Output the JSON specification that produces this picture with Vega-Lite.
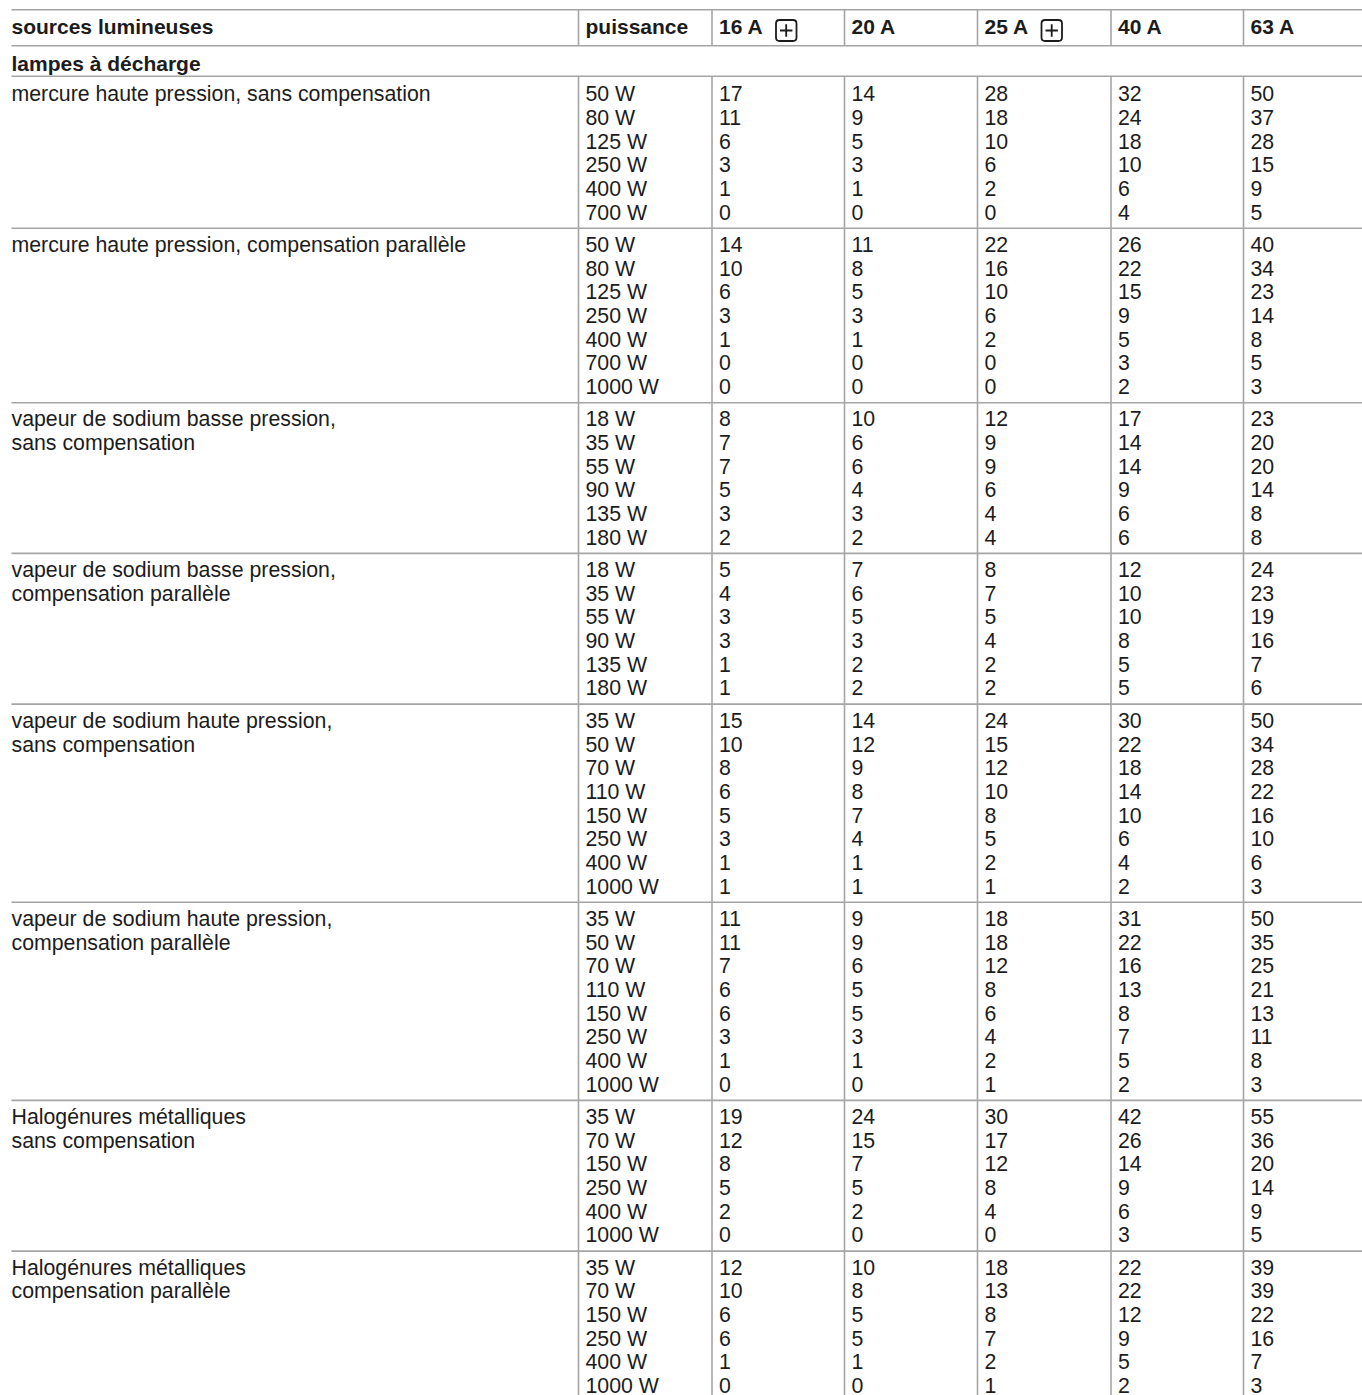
{
  "$schema": "https://vega.github.io/schema/vega-lite/v6.json",
  "width": 1362,
  "height": 1395,
  "autosize": {"type": "none"},
  "padding": 0,
  "background": "white",
  "config": {
    "view": {"stroke": null},
    "text": {"font": "Liberation Sans", "fontSize": 21, "color": "#1c1c1c", "align": "left", "baseline": "middle"}
  },
  "datasets": {
    "rows": [
      {"r": 0, "s": "mercure haute pression, sans compensation", "p": "50 W", "a16": 17, "a20": 14, "a25": 28, "a40": 32, "a63": 50},
      {"r": 1, "p": "80 W", "a16": 11, "a20": 9, "a25": 18, "a40": 24, "a63": 37},
      {"r": 2, "p": "125 W", "a16": 6, "a20": 5, "a25": 10, "a40": 18, "a63": 28},
      {"r": 3, "p": "250 W", "a16": 3, "a20": 3, "a25": 6, "a40": 10, "a63": 15},
      {"r": 4, "p": "400 W", "a16": 1, "a20": 1, "a25": 2, "a40": 6, "a63": 9},
      {"r": 5, "p": "700 W", "a16": 0, "a20": 0, "a25": 0, "a40": 4, "a63": 5},
      {"r": 6, "s": "mercure haute pression, compensation parallèle", "p": "50 W", "a16": 14, "a20": 11, "a25": 22, "a40": 26, "a63": 40},
      {"r": 7, "p": "80 W", "a16": 10, "a20": 8, "a25": 16, "a40": 22, "a63": 34},
      {"r": 8, "p": "125 W", "a16": 6, "a20": 5, "a25": 10, "a40": 15, "a63": 23},
      {"r": 9, "p": "250 W", "a16": 3, "a20": 3, "a25": 6, "a40": 9, "a63": 14},
      {"r": 10, "p": "400 W", "a16": 1, "a20": 1, "a25": 2, "a40": 5, "a63": 8},
      {"r": 11, "p": "700 W", "a16": 0, "a20": 0, "a25": 0, "a40": 3, "a63": 5},
      {"r": 12, "p": "1000 W", "a16": 0, "a20": 0, "a25": 0, "a40": 2, "a63": 3},
      {"r": 13, "s": "vapeur de sodium basse pression,", "p": "18 W", "a16": 8, "a20": 10, "a25": 12, "a40": 17, "a63": 23},
      {"r": 14, "s": "sans compensation", "p": "35 W", "a16": 7, "a20": 6, "a25": 9, "a40": 14, "a63": 20},
      {"r": 15, "p": "55 W", "a16": 7, "a20": 6, "a25": 9, "a40": 14, "a63": 20},
      {"r": 16, "p": "90 W", "a16": 5, "a20": 4, "a25": 6, "a40": 9, "a63": 14},
      {"r": 17, "p": "135 W", "a16": 3, "a20": 3, "a25": 4, "a40": 6, "a63": 8},
      {"r": 18, "p": "180 W", "a16": 2, "a20": 2, "a25": 4, "a40": 6, "a63": 8},
      {"r": 19, "s": "vapeur de sodium basse pression,", "p": "18 W", "a16": 5, "a20": 7, "a25": 8, "a40": 12, "a63": 24},
      {"r": 20, "s": "compensation parallèle", "p": "35 W", "a16": 4, "a20": 6, "a25": 7, "a40": 10, "a63": 23},
      {"r": 21, "p": "55 W", "a16": 3, "a20": 5, "a25": 5, "a40": 10, "a63": 19},
      {"r": 22, "p": "90 W", "a16": 3, "a20": 3, "a25": 4, "a40": 8, "a63": 16},
      {"r": 23, "p": "135 W", "a16": 1, "a20": 2, "a25": 2, "a40": 5, "a63": 7},
      {"r": 24, "p": "180 W", "a16": 1, "a20": 2, "a25": 2, "a40": 5, "a63": 6},
      {"r": 25, "s": "vapeur de sodium haute pression,", "p": "35 W", "a16": 15, "a20": 14, "a25": 24, "a40": 30, "a63": 50},
      {"r": 26, "s": "sans compensation", "p": "50 W", "a16": 10, "a20": 12, "a25": 15, "a40": 22, "a63": 34},
      {"r": 27, "p": "70 W", "a16": 8, "a20": 9, "a25": 12, "a40": 18, "a63": 28},
      {"r": 28, "p": "110 W", "a16": 6, "a20": 8, "a25": 10, "a40": 14, "a63": 22},
      {"r": 29, "p": "150 W", "a16": 5, "a20": 7, "a25": 8, "a40": 10, "a63": 16},
      {"r": 30, "p": "250 W", "a16": 3, "a20": 4, "a25": 5, "a40": 6, "a63": 10},
      {"r": 31, "p": "400 W", "a16": 1, "a20": 1, "a25": 2, "a40": 4, "a63": 6},
      {"r": 32, "p": "1000 W", "a16": 1, "a20": 1, "a25": 1, "a40": 2, "a63": 3},
      {"r": 33, "s": "vapeur de sodium haute pression,", "p": "35 W", "a16": 11, "a20": 9, "a25": 18, "a40": 31, "a63": 50},
      {"r": 34, "s": "compensation parallèle", "p": "50 W", "a16": 11, "a20": 9, "a25": 18, "a40": 22, "a63": 35},
      {"r": 35, "p": "70 W", "a16": 7, "a20": 6, "a25": 12, "a40": 16, "a63": 25},
      {"r": 36, "p": "110 W", "a16": 6, "a20": 5, "a25": 8, "a40": 13, "a63": 21},
      {"r": 37, "p": "150 W", "a16": 6, "a20": 5, "a25": 6, "a40": 8, "a63": 13},
      {"r": 38, "p": "250 W", "a16": 3, "a20": 3, "a25": 4, "a40": 7, "a63": 11},
      {"r": 39, "p": "400 W", "a16": 1, "a20": 1, "a25": 2, "a40": 5, "a63": 8},
      {"r": 40, "p": "1000 W", "a16": 0, "a20": 0, "a25": 1, "a40": 2, "a63": 3},
      {"r": 41, "s": "Halogénures métalliques", "p": "35 W", "a16": 19, "a20": 24, "a25": 30, "a40": 42, "a63": 55},
      {"r": 42, "s": "sans compensation", "p": "70 W", "a16": 12, "a20": 15, "a25": 17, "a40": 26, "a63": 36},
      {"r": 43, "p": "150 W", "a16": 8, "a20": 7, "a25": 12, "a40": 14, "a63": 20},
      {"r": 44, "p": "250 W", "a16": 5, "a20": 5, "a25": 8, "a40": 9, "a63": 14},
      {"r": 45, "p": "400 W", "a16": 2, "a20": 2, "a25": 4, "a40": 6, "a63": 9},
      {"r": 46, "p": "1000 W", "a16": 0, "a20": 0, "a25": 0, "a40": 3, "a63": 5},
      {"r": 47, "s": "Halogénures métalliques", "p": "35 W", "a16": 12, "a20": 10, "a25": 18, "a40": 22, "a63": 39},
      {"r": 48, "s": "compensation parallèle", "p": "70 W", "a16": 10, "a20": 8, "a25": 13, "a40": 22, "a63": 39},
      {"r": 49, "p": "150 W", "a16": 6, "a20": 5, "a25": 8, "a40": 12, "a63": 22},
      {"r": 50, "p": "250 W", "a16": 6, "a20": 5, "a25": 7, "a40": 9, "a63": 16},
      {"r": 51, "p": "400 W", "a16": 1, "a20": 1, "a25": 2, "a40": 5, "a63": 7},
      {"r": 52, "p": "1000 W", "a16": 0, "a20": 0, "a25": 1, "a40": 2, "a63": 3}
    ],
    "columns": [
      {"key": "s", "c": 0},
      {"key": "p", "c": 1},
      {"key": "a16", "c": 2},
      {"key": "a20", "c": 3},
      {"key": "a25", "c": 4},
      {"key": "a40", "c": 5},
      {"key": "a63", "c": 6}
    ],
    "bold": [
      {"r": -2, "c": 0, "t": "sources lumineuses"},
      {"r": -2, "c": 1, "t": "puissance"},
      {"r": -2, "c": 2, "t": "16 A"},
      {"r": -2, "c": 3, "t": "20 A"},
      {"r": -2, "c": 4, "t": "25 A"},
      {"r": -2, "c": 5, "t": "40 A"},
      {"r": -2, "c": 6, "t": "63 A"},
      {"r": -1, "c": 0, "t": "lampes à décharge"}
    ],
    "icons": [
      {"r": -2, "c": 2},
      {"r": -2, "c": 4}
    ],
    "hlines": [
      {"r": -2.5, "c": 0, "c1": 7}, {"r": -1.5, "c": 0, "c1": 7}, {"r": -0.5, "c": 0, "c1": 7},
      {"r": 5.5, "c": 0, "c1": 7}, {"r": 12.5, "c": 0, "c1": 7}, {"r": 18.5, "c": 0, "c1": 7},
      {"r": 24.5, "c": 0, "c1": 7}, {"r": 32.5, "c": 0, "c1": 7}, {"r": 40.5, "c": 0, "c1": 7},
      {"r": 46.5, "c": 0, "c1": 7}
    ],
    "vlines": [
      {"c": 1, "r0": -2.5, "r1": -1.5}, {"c": 1, "r0": -0.5, "r1": 52.6},
      {"c": 2, "r0": -2.5, "r1": -1.5}, {"c": 2, "r0": -0.5, "r1": 52.6},
      {"c": 3, "r0": -2.5, "r1": -1.5}, {"c": 3, "r0": -0.5, "r1": 52.6},
      {"c": 4, "r0": -2.5, "r1": -1.5}, {"c": 4, "r0": -0.5, "r1": 52.6},
      {"c": 5, "r0": -2.5, "r1": -1.5}, {"c": 5, "r0": -0.5, "r1": 52.6},
      {"c": 6, "r0": -2.5, "r1": -1.5}, {"c": 6, "r0": -0.5, "r1": 52.6}
    ]
  },
  "encoding": {
    "x": {
      "field": "c", "type": "quantitative", "axis": null,
      "scale": {"domain": [0, 1, 2, 3, 4, 5, 6, 7], "range": [11.5, 578.5, 712, 844.5, 977.5, 1111, 1243.5, 1376], "nice": false, "zero": false}
    },
    "y": {
      "field": "r", "type": "quantitative", "axis": null,
      "scale": {
        "domain": [-2.5, -2, -1.5, -1, -0.5, 0, 5, 6, 12, 13, 18, 19, 24, 25, 32, 33, 40, 41, 46, 47, 52],
        "range": [9.7, 26.2, 45.7, 63, 76.3, 93.7, 212, 244.5, 386.5, 418.9, 537.2, 569.6, 687.9, 720.4, 886, 918.5, 1084.1, 1116.6, 1234.9, 1267.3, 1385.6],
        "nice": false, "zero": false
      }
    }
  },
  "layer": [
    {
      "data": {"name": "hlines"},
      "mark": {"type": "rule", "stroke": "#a5a5a5", "strokeWidth": 1.6},
      "encoding": {"x2": {"field": "c1"}}
    },
    {
      "data": {"name": "vlines"},
      "mark": {"type": "rule", "stroke": "#a5a5a5", "strokeWidth": 1.6},
      "encoding": {"y": {"field": "r0", "type": "quantitative"}, "y2": {"field": "r1"}}
    },
    {
      "data": {"name": "rows"},
      "transform": [
        {"fold": ["s"], "as": ["key", "value"]},
        {"filter": "datum.value != null"},
        {"lookup": "key", "from": {"data": {"name": "columns"}, "key": "key", "fields": ["c"]}}
      ],
      "mark": {"type": "text", "fontSize": 21.3, "dy": 1.5},
      "encoding": {"text": {"field": "value", "type": "nominal"}}
    },
    {
      "data": {"name": "rows"},
      "transform": [
        {"fold": ["p", "a16", "a20", "a25", "a40", "a63"], "as": ["key", "value"]},
        {"lookup": "key", "from": {"data": {"name": "columns"}, "key": "key", "fields": ["c"]}}
      ],
      "mark": {"type": "text", "fontSize": 21.3, "dx": 7, "dy": 1.5},
      "encoding": {"text": {"field": "value", "type": "nominal"}}
    },
    {
      "data": {"name": "bold"},
      "transform": [{"filter": "datum.c == 0"}],
      "mark": {"type": "text", "fontWeight": "bold", "dy": 1.5},
      "encoding": {"text": {"field": "t", "type": "nominal"}}
    },
    {
      "data": {"name": "bold"},
      "transform": [{"filter": "datum.c > 0"}],
      "mark": {"type": "text", "fontWeight": "bold", "dx": 7, "dy": 1.5},
      "encoding": {"text": {"field": "t", "type": "nominal"}}
    },
    {
      "data": {"name": "icons"},
      "mark": {
        "type": "point",
        "shape": "M67.5,-6.2 L81,-6.2 Q84.5,-6.2 84.5,-2.7 L84.5,11.3 Q84.5,14.8 81,14.8 L67.5,14.8 Q64,14.8 64,11.3 L64,-2.7 Q64,-6.2 67.5,-6.2 Z M74.2,-1.9 L74.2,10.5 M68,4.3 L80.4,4.3",
        "size": 4,
        "filled": false,
        "stroke": "#1c1c1c",
        "strokeWidth": 1.8,
        "opacity": 1
      }
    }
  ]
}
